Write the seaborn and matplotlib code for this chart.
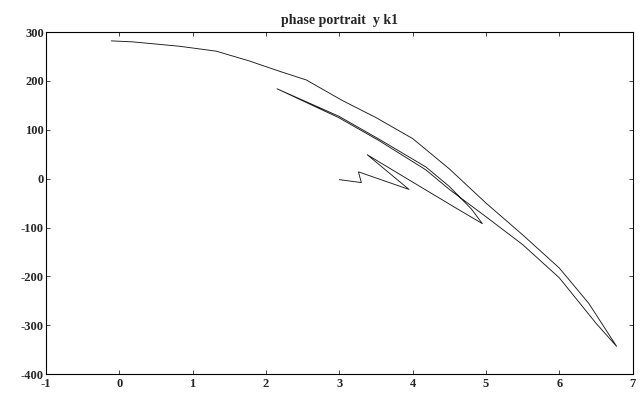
import numpy as np
import pandas as pd
import matplotlib
matplotlib.use("Agg")
import matplotlib.pyplot as plt
import seaborn as sns

# trajectory (y against k1), in drawing order
k1 = [-0.11, 0.18, 0.82, 1.32, 1.77, 2.18, 2.55, 3.04, 3.5, 4.0, 4.5, 5.0,
      5.5, 6.0, 6.4, 6.78,
      6.5, 6.0, 5.5, 5.0, 4.5, 4.18, 3.54, 2.99, 2.15,
      2.99, 3.54, 4.18, 4.5, 4.8, 4.95,
      4.6, 4.0, 3.38,
      3.95, 3.26, 3.3, 3.0]
y = [282, 280, 271, 261, 241, 220, 202, 160, 125, 82, 20, -50,
     -115, -183, -255, -343,
     -296, -203, -135, -78, -22, 18, 78, 125, 184,
     128, 81, 24, -16, -62, -92,
     -61, -7, 49,
     -22, 14, -8, -2]

x_ticks = list(range(-1, 8))
y_ticks = list(range(-400, 301, 100))

df = pd.DataFrame({"k1": k1, "y": y})

sns.set_style("ticks")
plt.rcParams['font.family'] = ['Liberation Serif', 'DejaVu Serif']

fig = plt.figure(figsize=(6.43, 4.01), dpi=100)
ax = fig.add_axes([0.0715, 0.067, 0.9125, 0.853])

sns.lineplot(data=df, x="k1", y="y", sort=False, estimator=None,
             color="#1a1a1a", linewidth=0.65, ax=ax)

ax.set_xlim(-1, 7)
ax.set_ylim(-400, 300)
ax.set_xticks(x_ticks)
ax.set_yticks(y_ticks)
ax.set_xticklabels([str(t) for t in x_ticks], fontweight="bold", fontsize=9)
ax.set_yticklabels([str(t) for t in y_ticks], fontweight="bold", fontsize=9)
ax.tick_params(direction="in", top=True, right=True, length=3, width=0.6, pad=1.5)
ax.tick_params(axis="x", pad=3)
for s in ax.spines.values():
    s.set_linewidth(0.8)
    s.set_color("black")
ax.set_xlabel("")
ax.set_ylabel("")
ax.set_title("phase portrait  y k1", fontsize=10, fontweight="bold", pad=6)

fig.savefig("out.png", dpi=100)
